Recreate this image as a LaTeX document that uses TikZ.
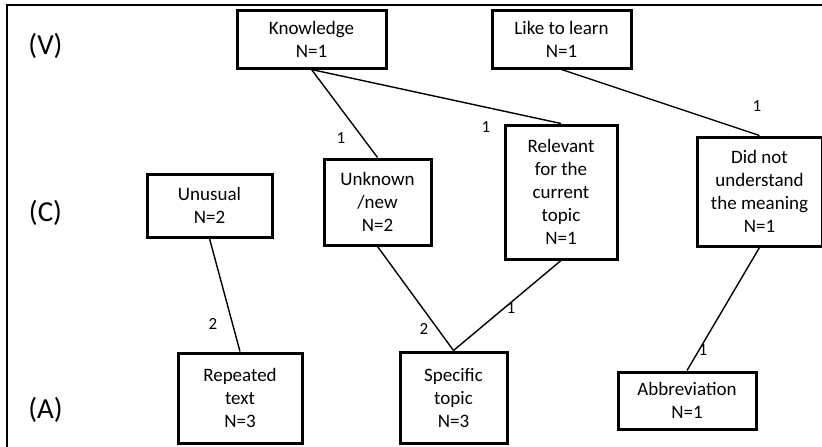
\documentclass[tikz,border=0pt]{standalone}
\usepackage{fontspec}
\setmainfont{Carlito}
\begin{document}
\begin{tikzpicture}[x=1pt,y=1pt,
  box/.style={draw=black,line width=3pt,fill=white,align=center,inner sep=0pt,
    font=\fontsize{19}{23}\selectfont},
  conn/.style={draw=black,line width=1.4pt},
  cnt/.style={font=\fontsize{17}{20}\selectfont,inner sep=0pt},
  lvl/.style={font=\fontsize{29}{34}\selectfont,inner sep=0pt}]
\useasboundingbox (0,0) rectangle (822,-447);
\draw[line width=2pt] (830,-5) -- (7,-5) -- (7,-455);
\node[lvl] (lv) at (45.5,-46) {(V)};
\node[lvl] (lc) at (45.5,-213) {(C)};
\node[lvl] (la) at (45.5,-410) {(A)};
\node[box,minimum width=149pt,minimum height=58pt] (K) at (311.5,-39) {Knowledge\\N=1};
\node[box,minimum width=139pt,minimum height=58pt] (L) at (561.5,-39) {Like to learn\\N=1};
\node[box,minimum width=125pt,minimum height=63pt] (U) at (209.5,-205.5) {Unusual\\N=2};
\node[box,minimum width=107pt,minimum height=86pt] (UN) at (377.5,-202) {Unknown\\/new\\N=2};
\node[box,minimum width=112pt,minimum height=134pt] (R) at (561,-192) {Relevant\\for the\\current\\topic\\N=1};
\node[box,minimum width=125pt,minimum height=109pt] (D) at (759.5,-191.5) {Did not\\understand\\the meaning\\N=1};
\node[box,minimum width=124pt,minimum height=90pt] (RT) at (240,-398) {Repeated\\text\\N=3};
\node[box,minimum width=107pt,minimum height=91pt] (S) at (453.5,-397.5) {Specific\\topic\\N=3};
\node[box,minimum width=138pt,minimum height=57pt] (A) at (687,-400.5) {Abbreviation\\N=1};
\path[conn] (K.south) -- (UN.north);
\path[conn] (K.south) -- (R.north);
\path[conn] (L.south) -- (D.north);
\path[conn] (U.south) -- (RT.north);
\path[conn] (UN.south) -- (S.north);
\path[conn] (R.south) -- (S.north);
\path[conn] (D.south) -- (A.north);
\node[cnt] (c1) at (341,-138) {1};
\node[cnt] (c2) at (486,-127) {1};
\node[cnt] (c3) at (757,-106) {1};
\node[cnt] (c4) at (213,-324) {2};
\node[cnt] (c5) at (424,-329) {2};
\node[cnt] (c6) at (511,-308) {1};
\node[cnt] (c7) at (703,-350) {1};
\end{tikzpicture}
\end{document}
